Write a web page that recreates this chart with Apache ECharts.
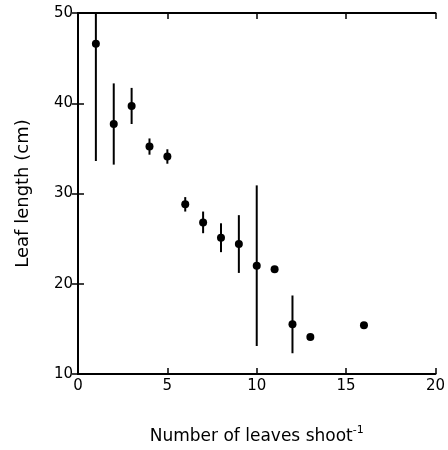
<!DOCTYPE html>
<html><head><meta charset="utf-8">
<script src="https://cdn.jsdelivr.net/npm/echarts@6/dist/echarts.min.js"></script>
<style>html,body{margin:0;padding:0;background:#fff}#c{width:448px;height:450px}</style>
</head><body><div id="c"></div>
<script>
const leaves = [1, 2, 3, 4, 5, 6, 7, 8, 9, 10, 11, 12, 13, 16];
const leafLength = [46.6, 37.7, 39.7, 35.2, 34.1, 28.8, 26.8, 25.1, 24.4, 22.0, 21.6, 15.5, 14.1, 15.4];
const errorSize = [13.0, 4.5, 2.0, 0.9, 0.8, 0.8, 1.2, 1.6, 3.2, 8.9, 0, 3.2, 0, 0];
const xTicks = [0, 5, 10, 15, 20];
const yTicks = [10, 20, 30, 40, 50];

const points = leaves.map((x, i) => [x, leafLength[i]]);
const bars = leaves.map((x, i) => [x, leafLength[i] - errorSize[i], leafLength[i] + errorSize[i]]).filter((d, i) => errorSize[i] > 0);

const font = 'DejaVu Sans, Liberation Sans, sans-serif';
const chart = echarts.init(document.getElementById('c'));
const axisCommon = {
  axisLine: {show: true, lineStyle: {color: '#000', width: 2}},
  axisTick: {show: true, inside: true, length: 6, lineStyle: {color: '#000', width: 1.5}},
  splitLine: {show: false},
  axisLabel: {color: '#000', fontFamily: font, fontSize: 15}
};
chart.setOption({
  animation: false,
  grid: {left: 78, right: 7, top: 13, bottom: 74},
  xAxis: [
    Object.assign({}, axisCommon, {type: 'value', min: xTicks[0], max: xTicks[xTicks.length-1], interval: 5,
      name: 'Number of leaves shoot{sup|-1}', nameLocation: 'middle', nameGap: 51,
      nameTextStyle: {color: '#000', fontFamily: font, fontSize: 17, rich: {sup: {fontSize: 11, verticalAlign: 'top', padding: [0,0,12,0], color: '#000', fontFamily: font}}},
      axisLabel: {color: '#000', fontFamily: font, fontSize: 15, margin: 5}}),
    Object.assign({}, axisCommon, {type: 'value', position: 'top', min: 0, max: 20, interval: 5, axisLabel: {show: false}})
  ],
  yAxis: [
    Object.assign({}, axisCommon, {type: 'value', min: yTicks[0], max: yTicks[yTicks.length-1], interval: 10,
      name: 'Leaf length (cm)', nameLocation: 'middle', nameGap: 46,
      nameTextStyle: {color: '#000', fontFamily: font, fontSize: 18},
      axisLabel: {color: '#000', fontFamily: font, fontSize: 15, margin: 5}}),
    Object.assign({}, axisCommon, {type: 'value', position: 'right', min: 10, max: 50, interval: 10, axisLabel: {show: false}})
  ],
  series: [
    {
      type: 'custom', clip: true, z: 2,
      data: bars,
      renderItem: function (params, api) {
        const p1 = api.coord([api.value(0), api.value(1)]);
        const p2 = api.coord([api.value(0), api.value(2)]);
        return {type: 'line', shape: {x1: p1[0], y1: p1[1], x2: p2[0], y2: p2[1]}, style: {stroke: '#000', lineWidth: 2}};
      }
    },
    {
      type: 'scatter', z: 3, data: points, symbol: 'circle', symbolSize: 8,
      itemStyle: {color: '#000', opacity: 1}
    }
  ]
});
</script></body></html>
